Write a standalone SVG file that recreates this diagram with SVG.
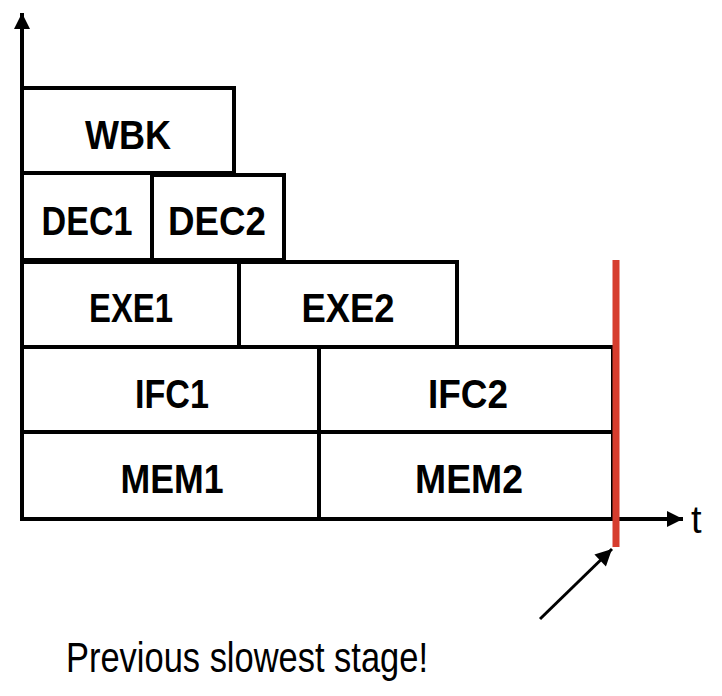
<svg xmlns="http://www.w3.org/2000/svg" width="722" height="696" viewBox="0 0 722 696">
<style>
.box{fill:#fff;stroke:#000;stroke-width:4}
.lbl{font-family:"Liberation Sans",Arial,sans-serif;font-weight:bold;font-size:40px;fill:#000;text-anchor:middle}
.ax{stroke:#000;stroke-width:4;fill:none}
</style>
<defs>
<marker id="ah" viewBox="0 0 10 10" refX="10" refY="5" markerWidth="4.2" markerHeight="4" orient="auto" markerUnits="strokeWidth">
<path d="M0,0 L10,5 L0,10 z" fill="#000"/>
</marker>
<marker id="ah2" viewBox="0 0 10 10" refX="10" refY="5" markerWidth="6" markerHeight="5.5" orient="auto" markerUnits="strokeWidth">
<path d="M0,0 L10,5 L0,10 z" fill="#000"/>
</marker>
</defs>
<rect width="722" height="696" fill="#fff"/>
<g id="WBK"><rect class="box" x="22" y="88" width="212" height="85"/><text class="lbl" x="128" y="149" textLength="86" lengthAdjust="spacingAndGlyphs">WBK</text></g>
<g id="DEC1"><rect class="box" x="22" y="173" width="130" height="87"/><text class="lbl" x="87" y="235" textLength="91" lengthAdjust="spacingAndGlyphs">DEC1</text></g>
<g id="DEC2"><rect class="box" x="152" y="175" width="132" height="85"/><text class="lbl" x="217" y="235" textLength="98" lengthAdjust="spacingAndGlyphs">DEC2</text></g>
<g id="EXE1"><rect class="box" x="22" y="262" width="217" height="85"/><text class="lbl" x="131" y="322" textLength="84" lengthAdjust="spacingAndGlyphs">EXE1</text></g>
<g id="EXE2"><rect class="box" x="239" y="262" width="218" height="85"/><text class="lbl" x="348" y="322" textLength="93" lengthAdjust="spacingAndGlyphs">EXE2</text></g>
<g id="IFC1"><rect class="box" x="22" y="347" width="297" height="85"/><text class="lbl" x="172" y="408" textLength="74" lengthAdjust="spacingAndGlyphs">IFC1</text></g>
<g id="IFC2"><rect class="box" x="319" y="347" width="294" height="85"/><text class="lbl" x="468" y="408" textLength="80" lengthAdjust="spacingAndGlyphs">IFC2</text></g>
<g id="MEM1"><rect class="box" x="22" y="432" width="297" height="87"/><text class="lbl" x="172" y="493" textLength="103" lengthAdjust="spacingAndGlyphs">MEM1</text></g>
<g id="MEM2"><rect class="box" x="319" y="432" width="294" height="87"/><text class="lbl" x="469" y="493" textLength="108" lengthAdjust="spacingAndGlyphs">MEM2</text></g>
<g id="connectors">
<line class="ax" x1="22" y1="521" x2="22" y2="13" marker-end="url(#ah)"/>
<line class="ax" x1="20" y1="519" x2="683" y2="519" marker-end="url(#ah)"/>
<line x1="616" y1="260" x2="616" y2="547" stroke="#d63d2e" stroke-width="7"/>
<line x1="540" y1="619" x2="612" y2="549" stroke="#000" stroke-width="3" marker-end="url(#ah2)"/>
</g>
<text x="691" y="533" font-family="Liberation Sans,Arial,sans-serif" font-size="38" fill="#000">t</text>
<text x="66" y="672" font-family="Liberation Sans,Arial,sans-serif" font-size="42" fill="#000" textLength="362" lengthAdjust="spacingAndGlyphs">Previous slowest stage!</text>
</svg>
